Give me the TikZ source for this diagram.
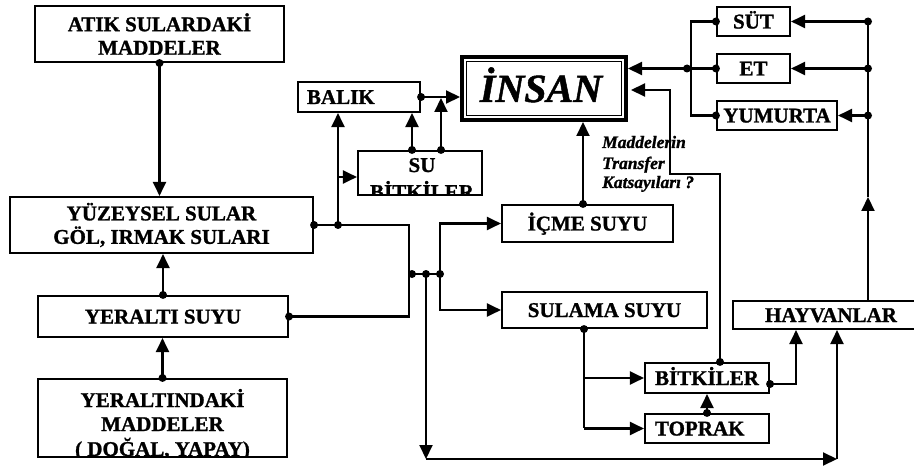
\documentclass[tikz,border=0pt]{standalone}
\usepackage{fontspec}
\setmainfont{Liberation Serif}[BoldFeatures={FakeBold=1.2},BoldItalicFeatures={FakeBold=1.2}]
\usetikzlibrary{arrows.meta,calc}
\begin{document}
\begin{tikzpicture}[x=1pt,y=-1pt,
  box/.style={draw, line width=2.1pt, inner sep=0pt, font=\fontsize{21}{23.5}\selectfont\bfseries, align=center},
  box1/.style={box, text height=14pt, text depth=0pt},
  lbl/.style={inner sep=0pt, font=\fontsize{21}{23.5}\selectfont\bfseries},
  kt/.style={inner sep=0pt, font=\fontsize{17.5}{20}\selectfont\bfseries\itshape},
  arr/.style={line width=2.1pt, -{Triangle[length=14pt,width=13pt]}},
  ln/.style={line width=2.1pt},
  dt/.style={radius=4pt}
]
\useasboundingbox (0,0) rectangle (914,468);

% ---- boxes
\node[box, minimum width=249pt, minimum height=56pt] (atik) at (159.5,34) {ATIK SULARDAKİ\\MADDELER};
\node[box, minimum width=303pt, minimum height=56pt] (yuzey) at (161.5,225) {YÜZEYSEL SULAR\\GÖL, IRMAK SULARI};
\node[box1, minimum width=250pt, minimum height=41pt] (yeralti) at (163,316.5) {YERALTI SUYU};
\begin{scope}
  \clip (38,379) rectangle (287,457);
  \node[lbl, anchor=base] (yl1) at (162.5,407) {YERALTINDAKİ};
  \node[lbl, anchor=base] (yl2) at (162.5,431) {MADDELER};
  \node[lbl, anchor=base] (yl3) at (162.5,456) {( DOĞAL, YAPAY)};
\end{scope}
\node[box, minimum width=249pt, minimum height=78pt] (yeraltindaki) at (162.5,418) {};

\node[box1, minimum width=122pt, minimum height=30pt, text width=104pt, align=left] (balik) at (359,97) {BALIK};
\begin{scope}
  \clip (358,151) rectangle (482,195);
  \node[lbl, anchor=base] (sb1) at (422,172) {SU};
  \node[lbl, anchor=base] (sb2) at (422,199) {BİTKİLER};
\end{scope}
\node[box, minimum width=124pt, minimum height=44pt] (subitki) at (420,173) {};

\node[draw, line width=4pt, minimum width=164pt, minimum height=63pt, inner sep=0pt] (insan) at (544,88.5) {};
\draw[line width=1.3pt] ($(insan.north west)+(6.5,6.5)$) rectangle ($(insan.south east)+(-6.5,-6.5)$);
\node[inner sep=0pt, font=\fontsize{40}{44}\selectfont\bfseries\itshape, anchor=base] (insantxt) at (541,102) {İNSAN};

\node[box1, minimum width=171pt, minimum height=37pt] (icme) at (587.5,223.5) {İÇME SUYU};
\node[box1, minimum width=205pt, minimum height=36pt] (sulama) at (604.5,310) {SULAMA SUYU};
\node[box1, minimum width=124pt, minimum height=30pt] (bitki) at (707,378) {BİTKİLER};
\node[box1, minimum width=124pt, minimum height=29pt, text width=104pt, align=left] (toprak) at (707,428.5) {TOPRAK};
\node[box1, minimum width=196pt, minimum height=28pt] (hayvan) at (831,315) {HAYVANLAR};
\node[box1, minimum width=73pt, minimum height=29pt] (sut) at (753.5,21.5) {SÜT};
\node[box1, minimum width=73pt, minimum height=29pt] (et) at (753.5,68.5) {ET};
\node[box1, minimum width=120pt, minimum height=29pt] (yumurta) at (777,115.5) {YUMURTA};

\node[kt, anchor=base west] (k1) at (602,148) {Maddelerin};
\node[kt, anchor=base west] (k2) at (602,169) {Transfer};
\node[kt, anchor=base west] (k3) at (602,188) {Katsayıları ?};

% ---- helper coordinates
\coordinate (jL) at (409,274);
\coordinate (jLd) at (412,274);
\coordinate (jM) at (426,274);
\coordinate (jR) at (440,274);
\coordinate (bot) at (426,459);
\coordinate (cB) at (338,0);
\coordinate (cS1) at (412,0);
\coordinate (cS2) at (441,0);
\coordinate (c177) at (0,177);
\coordinate (c583) at (583,0);
\coordinate (c584) at (584,0);
\coordinate (sv) at (584,428);
\coordinate (c720) at (720,0);
\coordinate (c670) at (670,174);
\coordinate (c90) at (0,90);
\coordinate (c384) at (0,384);
\coordinate (c796) at (796,0);
\coordinate (c837) at (837,0);
\coordinate (c868) at (868,0);
\coordinate (c197) at (0,197);
\coordinate (c691) at (691,0);
\coordinate (c687) at (687,0);

% ---- connectors
\draw[arr] (atik.south) -- (atik.south |- yuzey.north);
\fill[dt] (atik.south) circle;
\draw[arr] (yeralti.north) -- (yeralti.north |- yuzey.south);
\fill[dt] (yeralti.north) circle;
\draw[arr] (yeraltindaki.north) -- (yeraltindaki.north |- yeralti.south);
\fill[dt] (yeraltindaki.north) circle;

\draw[ln] (yuzey.east) -| (jL);
\draw[ln] (yeralti.east) -| (jL);
\draw[ln] (jL) -- (jR);
\draw[arr] (jR) |- (icme.west);
\draw[arr] (jR) |- (sulama.west);
\draw[arr] (jM) -- (bot);
\draw[arr] (bot) -- (bot -| c837);
\draw[arr] (bot -| c837) -- (hayvan.south -| c837);
\fill[dt] (yuzey.east) circle;
\fill[dt] (yeralti.east) circle;
\fill[dt] (jLd) circle;
\fill[dt] (jM) circle;
\fill[dt] (jR) circle;

\draw[arr] (yuzey.east -| cB) -- (balik.south -| cB);
\fill[dt] (yuzey.east -| cB) circle;
\draw[arr] (cB |- c177) -- (subitki.west |- c177);
\draw[arr] (subitki.north -| cS1) -- (balik.south -| cS1);
\fill[dt] (subitki.north -| cS1) circle;
\draw[arr] (subitki.north -| cS2) -- ($(balik.east -| cS2)+(0,1)$);
\fill[dt] (subitki.north -| cS2) circle;
\draw[arr] (balik.east) -- (balik.east -| insan.west);
\fill[dt] (balik.east) circle;

\draw[arr] (icme.north -| c583) -- (insan.south -| c583);
\fill[dt] (icme.north -| c583) circle;

\draw[arr] (bitki.north -| c720) |- (c670) |- ($(insan.east |- c90)+(3,0)$);
\fill[dt] (bitki.north -| c720) circle;
\draw[arr] (bitki.east |- c384) -| (hayvan.south -| c796);
\fill[dt] (bitki.east |- c384) circle;
\draw[arr] (toprak.north) -- (bitki.south);
\fill[dt] (toprak.north) circle;

\draw[ln] (sulama.south -| c584) -- (sv);
\fill[dt] (sulama.south -| c584) circle;
\draw[arr] (c584 |- bitki.west) -- (bitki.west);
\draw[arr] (c584 |- toprak.west) -- (toprak.west);

\draw[arr] (hayvan.north -| c868) -- (c868 |- c197);
\draw[ln] (c868 |- c197) -- (c868 |- sut.east);
\draw[arr] (c868 |- sut.east) -- (sut.east);
\draw[arr] (c868 |- et.east) -- (et.east);
\draw[arr] (c868 |- yumurta.east) -- (yumurta.east);
\fill[dt] (c868 |- sut.east) circle;
\fill[dt] (c868 |- et.east) circle;
\fill[dt] (c868 |- yumurta.east) circle;

\draw[ln] (sut.west) -| (c691 |- yumurta.west) -- (yumurta.west);
\draw[ln] (et.west) -- (c687 |- et.west);
\draw[arr] (c687 |- et.west) -- (insan.east |- et.west);
\fill[dt] (sut.west) circle;
\fill[dt] (et.west) circle;
\fill[dt] (yumurta.west) circle;
\fill[dt] (c687 |- et.west) circle;
\end{tikzpicture}
\end{document}
